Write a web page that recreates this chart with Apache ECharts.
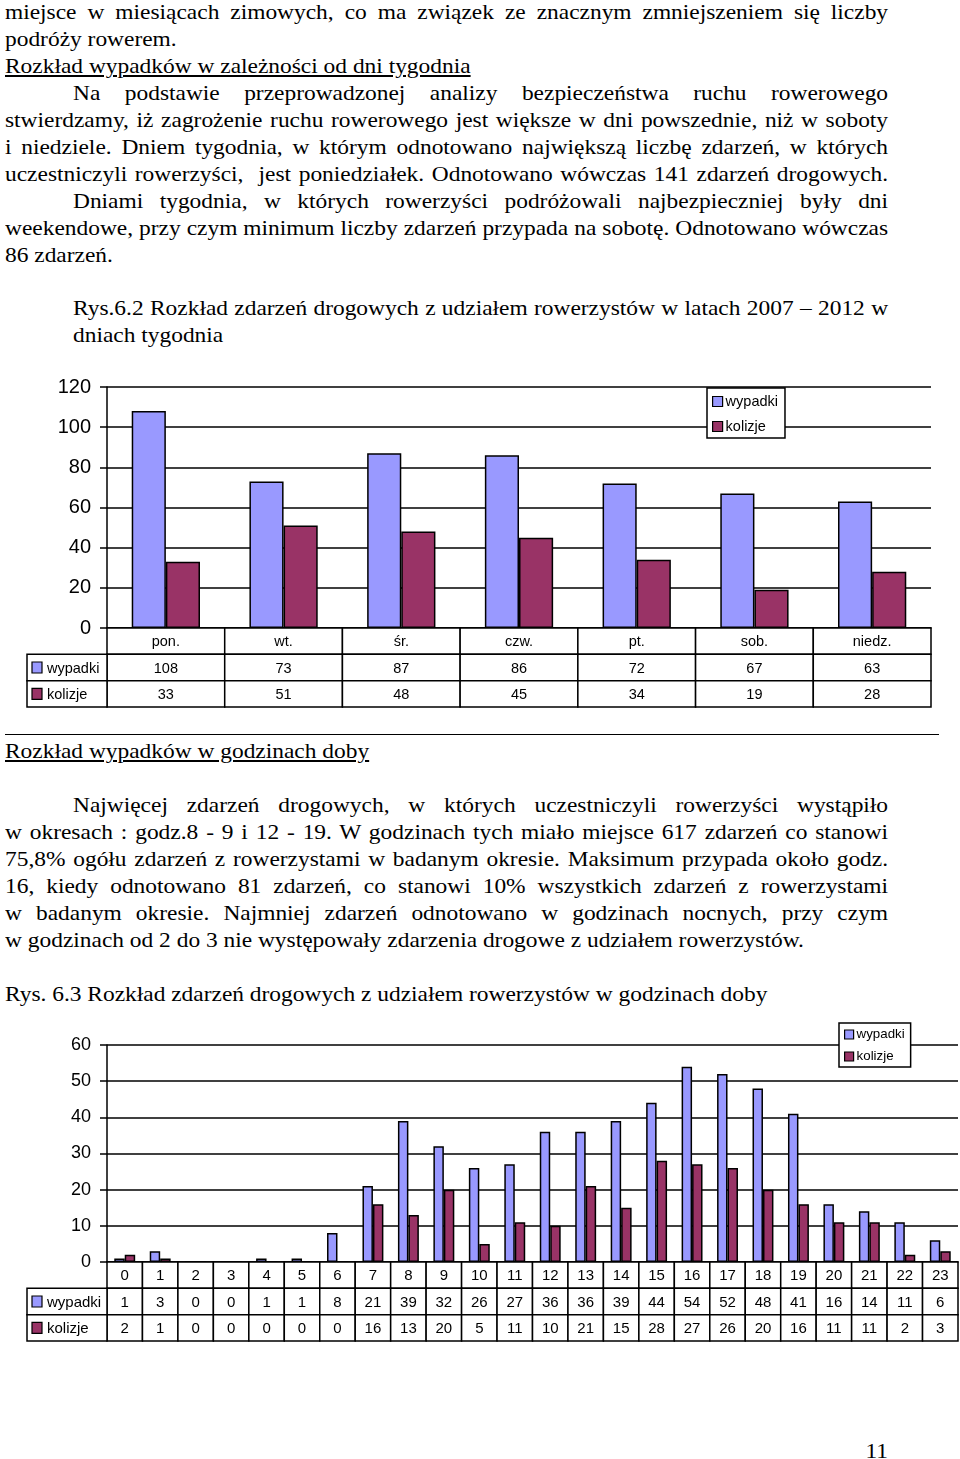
<!DOCTYPE html>
<html><head><meta charset="utf-8">
<script src="https://cdn.jsdelivr.net/npm/echarts@6/dist/echarts.min.js"></script>
<style>
html,body{margin:0;padding:0;background:#fff;}
body{width:960px;height:1459px;position:relative;overflow:hidden;}
.t{position:absolute;left:5px;width:792px;height:27px;font-family:"Liberation Serif","Times New Roman",serif;font-size:21px;line-height:27px;white-space:nowrap;color:#000;transform:scaleX(1.115);transform-origin:0 0;}
.j{text-align:justify;text-align-last:justify;white-space:normal;}
.ind{left:73px;width:731px;}
.u{text-decoration:underline;text-underline-offset:2px;}
.hr{position:absolute;left:5px;width:934px;top:734px;height:0;border-top:1.5px solid #000;}
.chart{position:absolute;left:0;width:960px;}
</style></head>
<body>
<div class="t j" style="top:-1px">miejsce w miesiącach zimowych, co ma związek ze znacznym zmniejszeniem się liczby</div>
<div class="t" style="top:26px">podróży rowerem.</div>
<div class="t u" style="top:53px">Rozkład wypadków w zależności od dni tygodnia</div>
<div class="t j ind" style="top:80px">Na podstawie przeprowadzonej analizy bezpieczeństwa ruchu rowerowego</div>
<div class="t j" style="top:107px">stwierdzamy, iż zagrożenie ruchu rowerowego jest większe w dni powszednie, niż w soboty</div>
<div class="t j" style="top:134px">i niedziele. Dniem tygodnia, w którym odnotowano największą liczbę zdarzeń, w których</div>
<div class="t j" style="top:161px">uczestniczyli rowerzyści,&nbsp; jest poniedziałek. Odnotowano wówczas 141 zdarzeń drogowych.</div>
<div class="t j ind" style="top:188px">Dniami tygodnia, w których rowerzyści podróżowali najbezpieczniej były dni</div>
<div class="t j" style="top:215px">weekendowe, przy czym minimum liczby zdarzeń przypada na sobotę. Odnotowano wówczas</div>
<div class="t" style="top:242px">86 zdarzeń.</div>
<div class="t j ind" style="top:295px">Rys.6.2 Rozkład zdarzeń drogowych z udziałem rowerzystów w latach 2007 – 2012 w</div>
<div class="t ind" style="top:322px">dniach tygodnia</div>

<div id="c1" class="chart" style="top:370px;height:350px"></div>

<div class="hr"></div>
<div class="t u" style="top:738px">Rozkład wypadków w godzinach doby</div>
<div class="t j ind" style="top:792px">Najwięcej zdarzeń drogowych, w których uczestniczyli rowerzyści wystąpiło</div>
<div class="t j" style="top:819px">w okresach : godz.8 - 9 i 12 - 19. W godzinach tych miało miejsce 617 zdarzeń co stanowi</div>
<div class="t j" style="top:846px">75,8% ogółu zdarzeń z rowerzystami w badanym okresie. Maksimum przypada około godz.</div>
<div class="t j" style="top:873px">16, kiedy odnotowano 81 zdarzeń, co stanowi 10% wszystkich zdarzeń z rowerzystami</div>
<div class="t j" style="top:900px">w badanym okresie. Najmniej zdarzeń odnotowano w godzinach nocnych, przy czym</div>
<div class="t" style="top:927px">w godzinach od 2 do 3 nie występowały zdarzenia drogowe z udziałem rowerzystów.</div>
<div class="t" style="top:981px">Rys. 6.3 Rozkład zdarzeń drogowych z udziałem rowerzystów w godzinach doby</div>

<div id="c2" class="chart" style="top:1020px;height:330px"></div>

<div class="t" style="top:1438px;text-align:right">11</div>

<script>
// ---- data ----
const seriesNames = ['wypadki', 'kolizje'];
const seriesColors = ['#9999FF', '#993366'];

const days = ['pon.', 'wt.', 'śr.', 'czw.', 'pt.', 'sob.', 'niedz.'];
const dayWypadki = [108, 73, 87, 86, 72, 67, 63];
const dayKolizje = [33, 51, 48, 45, 34, 19, 28];
const dayAxis = { min: 0, max: 120, interval: 20 };

const hours = ['0','1','2','3','4','5','6','7','8','9','10','11','12','13','14','15','16','17','18','19','20','21','22','23'];
const hourWypadki = [1, 3, 0, 0, 1, 1, 8, 21, 39, 32, 26, 27, 36, 36, 39, 44, 54, 52, 48, 41, 16, 14, 11, 6];
const hourKolizje = [2, 1, 0, 0, 0, 0, 0, 16, 13, 20, 5, 11, 10, 21, 15, 28, 27, 26, 20, 16, 11, 11, 2, 3];
const hourAxis = { min: 0, max: 60, interval: 10 };

const FONT = '"Liberation Sans", Arial, sans-serif';
const LINE = 1.5;

function buildOption(cfg) {
  const cats = cfg.categories;
  const values = cfg.values;
  const cells = [];
  cats.forEach((c, i) => cells.push({ col: i, row: 0, text: c, kind: 'head' }));
  values.forEach((arr, s) => {
    arr.forEach((v, i) => cells.push({ col: i, row: s + 1, text: String(v), kind: 'val' }));
    cells.push({ col: 0, row: s + 1, text: seriesNames[s], kind: 'label', s: s });
  });
  const rowNames = ['h'].concat(seriesNames);

  function renderCell(params, api) {
    const c = cells[params.dataIndex];
    const p = api.coord([c.col, c.row]);
    const sz = api.size([1, 1]);
    let x0 = p[0] - sz[0] / 2, y0 = p[1] - sz[1] / 2, w = sz[0], h = sz[1];
    const children = [];
    if (c.kind === 'label') {
      w = cfg.labelW; x0 = x0 - w;
      children.push({ type: 'rect', shape: { x: x0, y: y0, width: w, height: h },
        style: { fill: '#fff', stroke: '#000', lineWidth: LINE } });
      children.push({ type: 'rect', shape: { x: x0 + 5, y: y0 + h / 2 - 5.5, width: 10, height: 11 },
        style: { fill: seriesColors[c.s], stroke: '#000', lineWidth: 1.2 } });
      children.push({ type: 'text', style: { x: x0 + 20, y: y0 + h / 2 + 1, text: c.text,
        fill: '#000', font: cfg.tableFont + 'px ' + FONT, textAlign: 'left', textVerticalAlign: 'middle' } });
    } else {
      children.push({ type: 'rect', shape: { x: x0, y: y0, width: w, height: h },
        style: { fill: '#fff', stroke: '#000', lineWidth: LINE } });
      children.push({ type: 'text', style: { x: x0 + w / 2, y: y0 + h / 2 + 1, text: c.text,
        fill: '#000', font: cfg.tableFont + 'px ' + FONT, textAlign: 'center', textVerticalAlign: 'middle' } });
    }
    return { type: 'group', children: children };
  }

  return {
    animation: false,
    backgroundColor: '#fff',
    textStyle: { fontFamily: FONT, color: '#000' },
    legend: {
      data: seriesNames,
      orient: 'vertical',
      left: cfg.legend.left, top: cfg.legend.top,
      padding: cfg.legend.padding,
      itemGap: cfg.legend.itemGap,
      itemWidth: cfg.legend.icon, itemHeight: cfg.legend.icon,
      icon: 'rect',
      backgroundColor: '#fff',
      borderColor: '#000', borderWidth: LINE, borderRadius: 0,
      textStyle: { fontSize: cfg.legend.font, fontFamily: FONT, color: '#000', padding: [0, 0, 0, -2], lineHeight: cfg.legend.lh },
      itemStyle: { borderColor: '#000', borderWidth: 1.2 }
    },
    grid: [
      { left: cfg.left, top: cfg.plotTop, width: cfg.width, height: cfg.plotH, containLabel: false },
      { left: cfg.left, top: cfg.plotTop + cfg.plotH, width: cfg.width, height: cfg.tableH, containLabel: false }
    ],
    xAxis: [
      { type: 'category', gridIndex: 0, data: cats,
        axisLine: { show: true, lineStyle: { color: '#000', width: LINE } },
        axisTick: { show: false }, axisLabel: { show: false }, splitLine: { show: false } },
      { type: 'category', gridIndex: 1, data: cats, show: false }
    ],
    yAxis: [
      { type: 'value', gridIndex: 0, min: cfg.axis.min, max: cfg.axis.max, interval: cfg.axis.interval,
        axisLine: { show: true, lineStyle: { color: '#000', width: LINE } },
        axisTick: { show: true, length: 7, lineStyle: { color: '#000', width: LINE } },
        axisLabel: { fontSize: cfg.yFont, fontFamily: FONT, color: '#000', margin: 16 },
        splitLine: { show: true, lineStyle: { color: '#000', width: LINE } } },
      { type: 'category', gridIndex: 1, data: rowNames, inverse: true, show: false }
    ],
    series: values.map((arr, s) => ({
      name: seriesNames[s], type: 'bar', xAxisIndex: 0, yAxisIndex: 0,
      data: arr, barGap: '0%', barCategoryGap: cfg.catGap,
      itemStyle: { color: seriesColors[s], borderColor: '#000', borderWidth: LINE }
    })).concat([{
      type: 'custom', xAxisIndex: 1, yAxisIndex: 1, clip: false,
      renderItem: renderCell,
      data: cells.map(c => [c.col, c.row]),
      z: 3
    }])
  };
}

const c1 = echarts.init(document.getElementById('c1'), null, { renderer: 'canvas' });
c1.setOption(buildOption({
  categories: days, values: [dayWypadki, dayKolizje], axis: dayAxis,
  left: 107, width: 824, plotTop: 17, plotH: 241, tableH: 79, labelW: 80,
  catGap: '42%', yFont: 20, tableFont: 14.5,
  legend: { left: 707, top: 18, padding: [5, 7, 3, 5], itemGap: 8, icon: 10, font: 14.5, lh: 17 }
}));

const c2 = echarts.init(document.getElementById('c2'), null, { renderer: 'canvas' });
c2.setOption(buildOption({
  categories: hours, values: [hourWypadki, hourKolizje], axis: hourAxis,
  left: 107, width: 851, plotTop: 25, plotH: 217, tableH: 79, labelW: 80,
  catGap: '41%', yFont: 18, tableFont: 15,
  legend: { left: 839, top: 3, padding: [4, 6, 3, 5], itemGap: 7, icon: 9, font: 13.3, lh: 15 }
}));
</script>
</body></html>
